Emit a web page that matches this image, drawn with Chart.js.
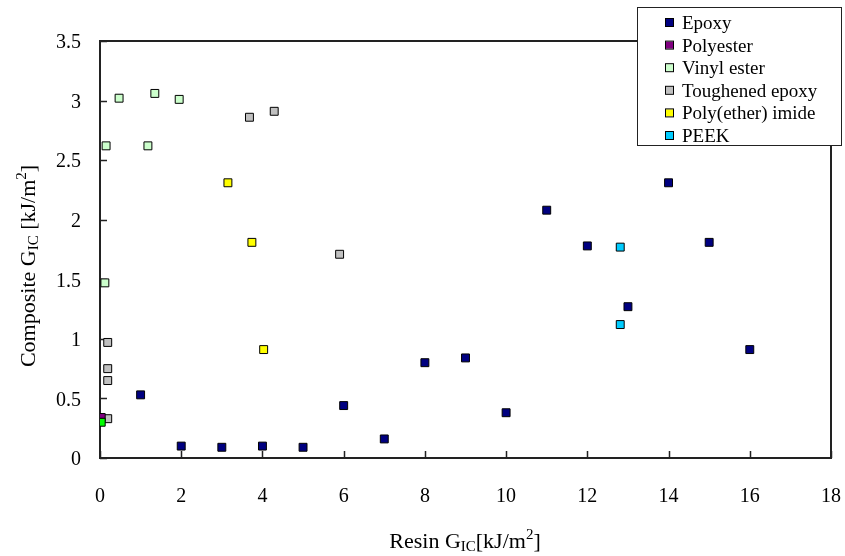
<!DOCTYPE html>
<html>
<head>
<meta charset="utf-8">
<script src="https://cdn.jsdelivr.net/npm/chart.js@4/dist/chart.umd.min.js"></script>
<style>
    html, body { margin: 0; padding: 0; background: #fff; }
    #wrap { width: 845px; height: 556px; }
</style>
</head>
<body>
<div id="wrap"><canvas id="gicChart" width="845" height="556"></canvas></div>
<script>
// series data (resin GIC vs composite GIC, kJ/m2)
const seriesNames = ["Epoxy", "Polyester", "Vinyl ester", "Toughened epoxy", "Poly(ether) imide", "PEEK"];

const epoxyX = [1, 2, 3, 4, 5, 6, 7, 8, 9, 10, 11, 12, 13, 14, 15, 16];
const epoxyY = [0.53, 0.10, 0.09, 0.10, 0.09, 0.44, 0.16, 0.80, 0.84, 0.38, 2.08, 1.78, 1.27, 2.31, 1.81, 0.91];

const polyesterX = [0.03];
const polyesterY = [0.34];

const vinylX = [0.15, 0.47, 1.35, 1.95, 1.18, 0.12];
const vinylY = [2.62, 3.02, 3.06, 3.01, 2.62, 1.47];

const toughX = [3.68, 4.29, 5.9, 0.19, 0.19, 0.19, 0.19];
const toughY = [2.86, 2.91, 1.71, 0.97, 0.75, 0.65, 0.33];

const peiX = [3.15, 3.74, 4.03];
const peiY = [2.31, 1.81, 0.91];

const peekX = [12.81, 12.81];
const peekY = [1.77, 1.12];

// unlabelled green point sitting on the y axis
const otherX = [0.03];
const otherY = [0.30];

const xTickLabels = ["0", "2", "4", "6", "8", "10", "12", "14", "16", "18"];
const yTickLabels = ["0", "0.5", "1", "1.5", "2", "2.5", "3", "3.5"];

const seriesColors = ["#000080", "#800080", "#CCFFCC", "#C0C0C0", "#FFFF00", "#00CCFF"];
const SERIF = "'Liberation Serif', 'Times New Roman', serif";

function toPoints(xs, ys) {
    return xs.map((x, i) => ({ x: x, y: ys[i] }));
}

function makeDataset(label, xs, ys, color, order) {
    return {
        label: label,
        data: toPoints(xs, ys),
        backgroundColor: color,
        borderColor: "#000",
        borderWidth: 1,
        pointStyle: "rect",
        pointRadius: 5.6,
        pointHoverRadius: 5.6,
        order: order
    };
}

const datasets = [
    makeDataset(seriesNames[0], epoxyX, epoxyY, seriesColors[0], 3),
    makeDataset(seriesNames[1], polyesterX, polyesterY, seriesColors[1], 1),
    makeDataset(seriesNames[2], vinylX, vinylY, seriesColors[2], 3),
    makeDataset(seriesNames[3], toughX, toughY, seriesColors[3], 2),
    makeDataset(seriesNames[4], peiX, peiY, seriesColors[4], 3),
    makeDataset(seriesNames[5], peekX, peekY, seriesColors[5], 3),
    makeDataset("", otherX, otherY, "#00FF00", 0)
];

// draws text pieces with sub/superscripts, centred on x
function drawRichText(ctx, parts, x, y) {
    let total = 0;
    parts.forEach(p => {
        ctx.font = `${p.size}px ${SERIF}`;
        p.w = ctx.measureText(p.text).width;
        total += p.w;
    });
    let cx = x - total / 2;
    ctx.textAlign = "left";
    ctx.textBaseline = "alphabetic";
    ctx.fillStyle = "#000";
    parts.forEach(p => {
        ctx.font = `${p.size}px ${SERIF}`;
        ctx.fillText(p.text, cx, y + (p.dy || 0));
        cx += p.w;
    });
}

const framePlugin = {
    id: "frame",
    beforeDatasetsDraw(chart) {
        const ctx = chart.ctx;
        const a = chart.chartArea;
        const xs = chart.scales.x;
        const ys = chart.scales.y;
        ctx.save();
        ctx.strokeStyle = "#222";
        ctx.lineWidth = 2;
        ctx.strokeRect(a.left, a.top, a.right - a.left, a.bottom - a.top);
        ctx.beginPath();
        xs.ticks.forEach(t => {
            const px = Math.round(xs.getPixelForValue(t.value)) + 0.5;
            ctx.moveTo(px, a.bottom);
            ctx.lineTo(px, a.bottom - 7);
        });
        ys.ticks.forEach(t => {
            const py = Math.round(ys.getPixelForValue(t.value)) + 0.5;
            ctx.moveTo(a.left, py);
            ctx.lineTo(a.left + 7, py);
        });
        ctx.lineWidth = 1.5;
        ctx.stroke();
        ctx.restore();
    }
};

const titlesPlugin = {
    id: "axisTitles",
    afterDraw(chart) {
        const ctx = chart.ctx;
        ctx.save();
        drawRichText(ctx, [
            { text: "Resin G", size: 22 },
            { text: "IC", size: 15, dy: 3 },
            { text: "[kJ/m", size: 22 },
            { text: "2", size: 15, dy: -9 },
            { text: "]", size: 22 }
        ], 465, 548);

        ctx.translate(35, 266);
        ctx.rotate(-Math.PI / 2);
        drawRichText(ctx, [
            { text: "Composite G", size: 22 },
            { text: "IC", size: 15, dy: 3 },
            { text: " [kJ/m", size: 22 },
            { text: "2", size: 15, dy: -9 },
            { text: "]", size: 22 }
        ], 0, 0);
        ctx.restore();
    }
};

const boxLegendPlugin = {
    id: "boxLegend",
    afterDraw(chart) {
        const ctx = chart.ctx;
        ctx.save();
        ctx.fillStyle = "#fff";
        ctx.fillRect(637, 7, 204, 138);
        ctx.strokeStyle = "#222";
        ctx.lineWidth = 1;
        ctx.strokeRect(637.5, 7.5, 204, 138);

        ctx.font = `19px ${SERIF}`;
        ctx.textAlign = "left";
        ctx.textBaseline = "middle";
        chart.data.datasets.forEach((ds, i) => {
            if (!ds.label) return;
            const y = 23 + i * 22.6;
            ctx.fillStyle = ds.backgroundColor;
            ctx.fillRect(666, y - 4, 7, 7);
            ctx.strokeStyle = "#000";
            ctx.strokeRect(665.5, y - 4.5, 8, 8);
            ctx.fillStyle = "#000";
            ctx.fillText(ds.label, 682, y + 1);
        });
        ctx.restore();
    }
};

new Chart(document.getElementById("gicChart"), {
    type: "scatter",
    data: { datasets: datasets },
    options: {
        responsive: false,
        animation: false,
        devicePixelRatio: 1,
        layout: { padding: { left: 0, top: 41, right: 14, bottom: 0 } },
        plugins: {
            legend: { display: false },
            tooltip: { enabled: false }
        },
        scales: {
            x: {
                type: "linear",
                min: 0,
                max: 18,
                grid: { display: false, drawTicks: false },
                border: { display: false },
                ticks: {
                    stepSize: 2,
                    padding: 27,
                    color: "#000",
                    font: { family: SERIF, size: 20 },
                    callback: (v, i) => xTickLabels[i]
                },
                afterFit: scale => {
                    scale.height = 98;
                    scale.paddingLeft = 0;
                    scale.paddingRight = 0;
                }
            },
            y: {
                type: "linear",
                min: 0,
                max: 3.5,
                grid: { display: false, drawTicks: false },
                border: { display: false },
                ticks: {
                    stepSize: 0.5,
                    padding: 19,
                    labelOffset: 2,
                    color: "#000",
                    font: { family: SERIF, size: 20 },
                    callback: (v, i) => yTickLabels[i]
                },
                afterFit: scale => {
                    scale.width = 100;
                    scale.paddingTop = 0;
                    scale.paddingBottom = 0;
                }
            }
        }
    },
    plugins: [framePlugin, titlesPlugin, boxLegendPlugin]
});
</script>
</body>
</html>
